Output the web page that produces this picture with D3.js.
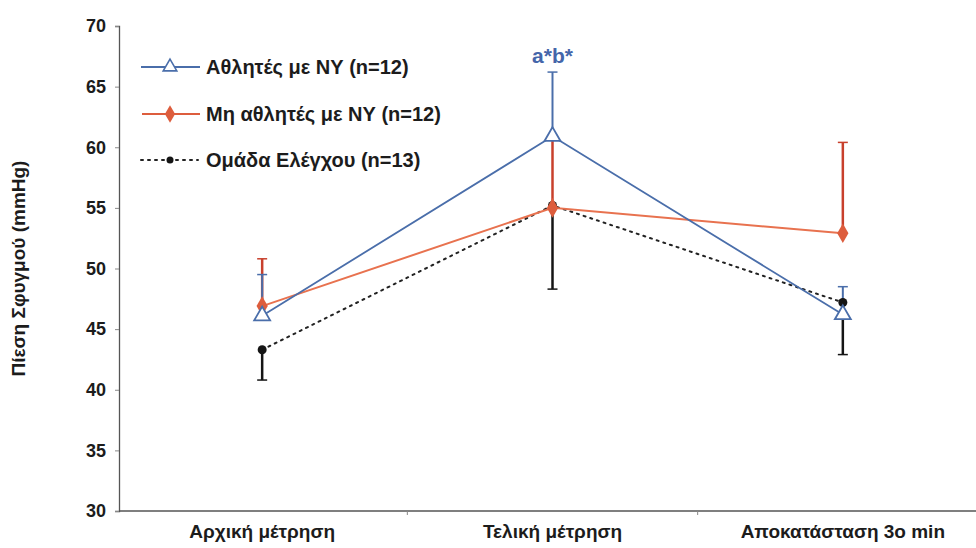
<!DOCTYPE html>
<html>
<head>
<meta charset="utf-8">
<script src="https://cdn.jsdelivr.net/npm/d3@7"></script>
<style>
  html, body { margin: 0; padding: 0; background: #fff; }
  svg { display: block; }
</style>
</head>
<body>
<svg id="chart" width="976" height="548"></svg>
<script>
// Measurement points
const categories = ["Αρχική μέτρηση", "Τελική μέτρηση", "Αποκατάσταση 3ο min"];

// Pulse pressure means (mmHg)
const athletesMean    = [46.1, 60.9, 46.2];
const nonAthletesMean = [46.9, 55.0, 52.9];
const controlMean     = [43.3, 55.2, 47.2];

// Standard deviations (athletes / non-athletes drawn upward, control downward)
const athletesSD    = [3.4, 5.3, 2.3];
const nonAthletesSD = [3.9, 5.8, 7.5];
const controlSD     = [2.5, 6.9, 4.3];

const yTicks = [30, 35, 40, 45, 50, 55, 60, 65, 70];

const seriesNames = ["Αθλητές με ΝΥ (n=12)", "Μη αθλητές με ΝΥ (n=12)", "Ομάδα Ελέγχου (n=13)"];
const annotation = "a*b*";

const svg = d3.select("#chart");
const font = "'Liberation Sans', Arial, sans-serif";

const x = d3.scalePoint().domain(categories).range([117, 988]).padding(0.5);
const y = d3.scaleLinear().domain([30, 70]).range([511, 26]);

const blue = "#4a6eaa", red = "#dd5d3d", redDark = "#c8402c", black = "#151515", ink = "#1c1c1c";

// Y axis
const yAxis = svg.append("g").attr("transform", "translate(119,0)")
  .call(d3.axisLeft(y).tickValues(yTicks).tickSize(4).tickPadding(9));
yAxis.select(".domain").attr("stroke", "#555").attr("stroke-width", 1.3);
yAxis.selectAll(".tick line").attr("stroke", "#888");
yAxis.selectAll("text").attr("font-family", font).attr("font-weight", "bold")
  .attr("font-size", 18).attr("fill", ink);

// X axis baseline with separators between categories
const xAxisG = svg.append("g").attr("transform", `translate(0,${y(30)})`);
xAxisG.append("line").attr("x1", 119).attr("x2", 976).attr("stroke", "#555").attr("stroke-width", 1.3);
const step = x.step();
const seps = categories.slice(0, -1).map(c => x(c) + step / 2);
xAxisG.selectAll("line.sep").data(seps).join("line").attr("class", "sep")
  .attr("x1", d => d).attr("x2", d => d).attr("y1", 0).attr("y2", 4).attr("stroke", "#888");
xAxisG.selectAll("text").data(categories).join("text")
  .attr("x", d => x(d)).attr("y", 27).attr("text-anchor", "middle")
  .attr("font-family", font).attr("font-weight", "bold").attr("font-size", 19)
  .attr("fill", ink).text(d => d);

// Y axis title
svg.append("text")
  .attr("transform", `translate(25,${y(50)}) rotate(-90)`)
  .attr("text-anchor", "middle").attr("font-family", font).attr("font-weight", "bold")
  .attr("font-size", 19).attr("fill", ink).text("Πίεση Σφυγμού (mmHg)");

function errorBars(means, sds, dir, color, width) {
  const g = svg.append("g");
  categories.forEach((c, i) => {
    const v0 = means[i], v1 = means[i] + dir * sds[i];
    g.append("line").attr("x1", x(c)).attr("x2", x(c)).attr("y1", y(v0)).attr("y2", y(v1))
      .attr("stroke", color).attr("stroke-width", width);
    g.append("line").attr("x1", x(c) - 5).attr("x2", x(c) + 5).attr("y1", y(v1)).attr("y2", y(v1))
      .attr("stroke", color).attr("stroke-width", 1.5);
  });
}

const line = d3.line().x((d, i) => x(categories[i])).y(d => y(d));

// Control group (dotted)
errorBars(controlMean, controlSD, -1, black, 2.5);
svg.append("path").datum(controlMean).attr("d", line).attr("fill", "none")
  .attr("stroke", "#222").attr("stroke-width", 2).attr("stroke-dasharray", "2,5").attr("stroke-linecap", "round");

// Non-athletes
errorBars(nonAthletesMean, nonAthletesSD, 1, redDark, 2.5);
svg.append("path").datum(nonAthletesMean).attr("d", line).attr("fill", "none")
  .attr("stroke", "#e8724f").attr("stroke-width", 2);

// Athletes
errorBars(athletesMean, athletesSD, 1, blue, 2);
svg.append("path").datum(athletesMean).attr("d", line).attr("fill", "none")
  .attr("stroke", blue).attr("stroke-width", 1.8);

// Markers
const sym = (type, size) => d3.symbol().type(type).size(size)();
svg.append("g").selectAll("circle").data(controlMean).join("circle")
  .attr("cx", (d, i) => x(categories[i])).attr("cy", d => y(d)).attr("r", 4.5).attr("fill", black);
svg.append("g").selectAll("path").data(nonAthletesMean).join("path")
  .attr("transform", (d, i) => `translate(${x(categories[i])},${y(d)})`)
  .attr("d", sym(d3.symbolDiamond, 110)).attr("fill", red);
svg.append("g").selectAll("path").data(athletesMean).join("path")
  .attr("transform", (d, i) => `translate(${x(categories[i])},${y(d)})`)
  .attr("d", sym(d3.symbolTriangle, 110)).attr("fill", "#fff").attr("stroke", blue).attr("stroke-width", 1.8);

// Significance annotation above the final measurement
svg.append("text").attr("x", x(categories[1])).attr("y", 63).attr("text-anchor", "middle")
  .attr("font-family", font).attr("font-weight", "bold").attr("font-size", 21).attr("fill", "#4466aa")
  .text(annotation);

// Legend
const legend = svg.append("g");
const rows = [
  { name: seriesNames[0], y: 67 },
  { name: seriesNames[1], y: 114 },
  { name: seriesNames[2], y: 160 }
];
// athletes
legend.append("line").attr("x1", 141).attr("x2", 200).attr("y1", rows[0].y).attr("y2", rows[0].y)
  .attr("stroke", blue).attr("stroke-width", 1.8);
legend.append("path").attr("transform", `translate(170,${rows[0].y})`)
  .attr("d", sym(d3.symbolTriangle, 80)).attr("fill", "#fff").attr("stroke", blue).attr("stroke-width", 1.6);
// non-athletes
legend.append("line").attr("x1", 142).attr("x2", 200).attr("y1", rows[1].y).attr("y2", rows[1].y)
  .attr("stroke", red).attr("stroke-width", 2);
legend.append("path").attr("transform", `translate(170,${rows[1].y})`)
  .attr("d", sym(d3.symbolDiamond, 90)).attr("fill", red);
// control
legend.append("line").attr("x1", 141).attr("x2", 198).attr("y1", rows[2].y).attr("y2", rows[2].y)
  .attr("stroke", "#222").attr("stroke-width", 2).attr("stroke-dasharray", "2,5").attr("stroke-linecap", "round");
legend.append("circle").attr("cx", 170).attr("cy", rows[2].y).attr("r", 3.5).attr("fill", black);

legend.selectAll("text").data(rows).join("text")
  .attr("x", 206).attr("y", d => d.y + 7)
  .attr("font-family", font).attr("font-weight", "bold").attr("font-size", 20).attr("fill", ink)
  .text(d => d.name);
</script>
</body>
</html>
